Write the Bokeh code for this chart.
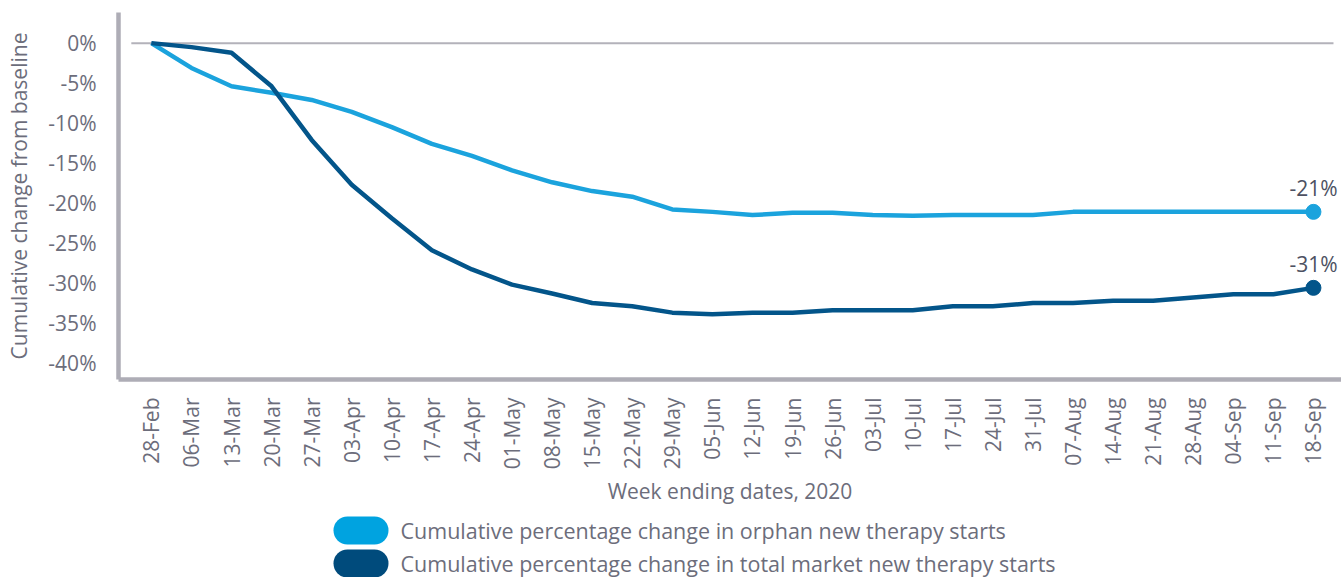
import math
from bokeh.plotting import figure
from bokeh.layouts import column
from bokeh.models import Range1d, FixedTicker, PrintfTickFormatter
from bokeh.embed import file_html
from bokeh.resources import INLINE
from bokeh.core.properties import value

weeks = ["28-Feb", "06-Mar", "13-Mar", "20-Mar", "27-Mar", "03-Apr", "10-Apr", "17-Apr",
         "24-Apr", "01-May", "08-May", "15-May", "22-May", "29-May", "05-Jun", "12-Jun",
         "19-Jun", "26-Jun", "03-Jul", "10-Jul", "17-Jul", "24-Jul", "31-Jul", "07-Aug",
         "14-Aug", "21-Aug", "28-Aug", "04-Sep", "11-Sep", "18-Sep"]

orphan = [0.0, -3.1, -5.4, -6.2, -7.1, -8.6, -10.5, -12.6, -14.1, -15.9, -17.4, -18.5,
          -19.2, -20.8, -21.1, -21.5, -21.2, -21.2, -21.5, -21.6, -21.5, -21.5, -21.5,
          -21.1, -21.1, -21.1, -21.1, -21.1, -21.1, -21.1]

total = [0.0, -0.5, -1.2, -5.4, -12.1, -17.7, -21.9, -25.9, -28.3, -30.2, -31.3, -32.5,
         -32.9, -33.7, -33.9, -33.7, -33.7, -33.4, -33.4, -33.4, -32.9, -32.9, -32.5,
         -32.5, -32.2, -32.2, -31.8, -31.4, -31.4, -30.6]

y_ticks = [0, -5, -10, -15, -20, -25, -30, -35, -40]

series_names = ["Cumulative percentage change in orphan new therapy starts",
                "Cumulative percentage change in total market new therapy starts"]

FONT = "Open Sans"
FS = "21px"
TEXT_GREY = "#6c6d7b"
AXIS_GREY = "#aeadb6"
LIGHT = "#1ba3dd"
DARK = "#03558a"
LIGHT_SW = "#00a3e0"
DARK_SW = "#004b7c"

W = 1341
H_MAIN = 508
H_LEG = 69
LEFT = 118

idx = list(range(len(weeks)))

p = figure(width=W, height=H_MAIN, output_backend="svg", toolbar_location=None,
           x_range=Range1d(-0.82, 29.70), y_range=Range1d(-42.06, 3.83),
           min_border_left=LEFT, min_border_right=0, min_border_top=12, min_border_bottom=128)
p.outline_line_color = None
p.grid.visible = False
p.border_fill_color = "white"
p.background_fill_color = "white"

# zero baseline
p.segment(x0=[-0.5], y0=[0], x1=[len(weeks) - 0.5], y1=[0], line_color="#b3b2ba", line_width=2)

p.line(idx, orphan, line_color=LIGHT, line_width=4.5, line_join="round")
p.line(idx, total, line_color=DARK, line_width=4.5, line_join="round")
p.scatter([idx[-1]], [orphan[-1]], size=15, fill_color=LIGHT, line_color=LIGHT)
p.scatter([idx[-1]], [total[-1]], size=15, fill_color=DARK, line_color=DARK)
p.text(x=[idx[-1], idx[-1]], y=[orphan[-1], total[-1]],
       text=[f"{round(orphan[-1])}%", f"{round(total[-1])}%"],
       text_align="center", text_baseline="middle", y_offset=-24,
       text_font=value(FONT), text_font_size=FS, text_color="#4d5162")

xa = p.xaxis[0]
xa.ticker = FixedTicker(ticks=idx)
xa.major_label_overrides = {i: w for i, w in zip(idx, weeks)}
xa.major_label_orientation = math.pi / 2
xa.major_tick_line_color = None
xa.minor_tick_line_color = None
xa.axis_line_color = AXIS_GREY
xa.axis_line_width = 4.5
xa.major_label_standoff = 12
xa.major_label_text_font = FONT
xa.major_label_text_font_size = FS
xa.major_label_text_color = TEXT_GREY
xa.axis_label = "Week ending dates, 2020"
xa.axis_label_text_font = FONT
xa.axis_label_text_font_size = FS
xa.axis_label_text_font_style = "normal"
xa.axis_label_text_color = TEXT_GREY
xa.axis_label_standoff = 5

ya = p.yaxis[0]
ya.ticker = FixedTicker(ticks=y_ticks)
ya.formatter = PrintfTickFormatter(format="%d%%")
ya.major_tick_line_color = None
ya.minor_tick_line_color = None
ya.axis_line_color = AXIS_GREY
ya.axis_line_width = 4.5
ya.major_label_standoff = 16
ya.major_label_text_font = FONT
ya.major_label_text_font_size = FS
ya.major_label_text_color = TEXT_GREY
ya.axis_label = "Cumulative change from baseline"
ya.axis_label_text_font = FONT
ya.axis_label_text_font_size = FS
ya.axis_label_text_font_style = "normal"
ya.axis_label_text_color = TEXT_GREY
ya.axis_label_standoff = 12

# legend strip below the chart (page-pixel coordinates, y downwards)
lg = figure(width=W, height=H_LEG, output_backend="svg", toolbar_location=None,
            x_axis_type=None, y_axis_type=None,
            min_border_left=LEFT, min_border_right=0, min_border_top=0, min_border_bottom=0,
            x_range=Range1d(LEFT, W), y_range=Range1d(H_LEG, 0))
lg.outline_line_color = None
lg.grid.visible = False
leg_y = [22, 55]
lg.segment(x0=[347, 347], y0=leg_y, x1=[374, 374], y1=leg_y,
           line_color=[LIGHT_SW, DARK_SW], line_width=28, line_cap="round")
lg.text(x=[400, 400], y=leg_y, text=series_names, text_align="left", text_baseline="middle",
        text_font=value(FONT), text_font_size="21.5px", text_color=TEXT_GREY)

open("out.html", "w").write(file_html(column(p, lg, spacing=0), INLINE))
